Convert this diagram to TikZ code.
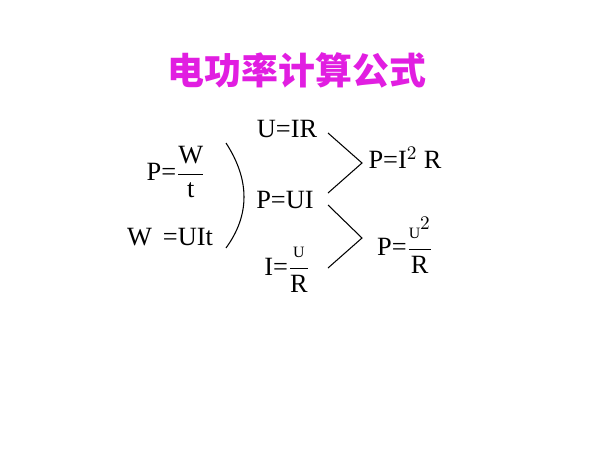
\documentclass[tikz,border=0pt]{standalone}
\usepackage{fontspec}
\setmainfont{Liberation Serif}
\newfontfamily\cjk{Noto Sans CJK SC}
\definecolor{titlemag}{RGB}{225,30,225}
\begin{document}
\begin{tikzpicture}[x=0.02cm,y=-0.02cm,
  eq/.style={inner sep=0pt,font=\fontsize{15}{17}\selectfont},
  ln/.style={line width=0.6pt}]
\useasboundingbox (0,0) rectangle (600,450);
\node[inner sep=0pt,text=titlemag,font=\cjk\bfseries\fontsize{21}{24}\selectfont] (title) at (297,70) {电功率计算公式};
\node[eq] (pw) at (176,172) {P=$\displaystyle\frac{\mbox{W}}{\mbox{t}}$};
\node[eq] (wu) at (170,237) {W\ \,=UIt};
\node[eq] (uir) at (287,129) {U=IR};
\node[eq] (pui) at (285,200) {P=UI};
\node[eq] (iur) at (287,270) {I=$\displaystyle\frac{\mbox{\small U}}{\mbox{R}}$};
\node[eq] (pir) at (405,158) {P=I$^2$ R};
\node[eq] (pur) at (405,245) {P=$\displaystyle\frac{\mbox{\small U}^2}{\mbox{R}}$};
\coordinate (ct) at (226,143); \coordinate (cb) at (226,248);
\draw[ln] (ct) .. controls (250,180) and (250,215) .. (cb);
\coordinate (a1) at (328,133); \coordinate (a2) at (362,163); \coordinate (a3) at (328,193);
\coordinate (b1) at (328,205); \coordinate (b2) at (362,238); \coordinate (b3) at (328,268);
\draw[ln] (a1) -- (a2) -- (a3);
\draw[ln] (b1) -- (b2) -- (b3);
\end{tikzpicture}
\end{document}
